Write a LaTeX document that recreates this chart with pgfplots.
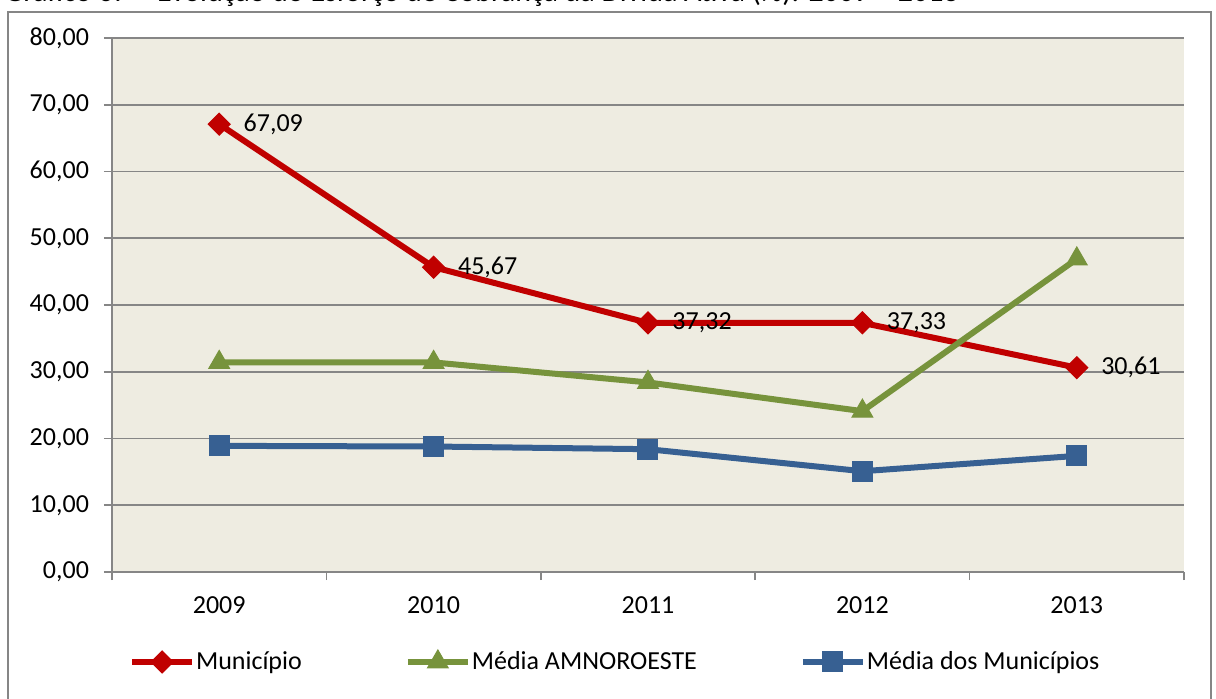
\documentclass[border=0pt]{standalone}
\usepackage{fontspec}
\setmainfont{Carlito}
\usepackage{pgfplots}
\pgfplotsset{compat=1.18}

\definecolor{cRed}{HTML}{C00000}
\definecolor{cGreen}{HTML}{77933C}
\definecolor{cBlue}{HTML}{376092}
\definecolor{cBg}{HTML}{EEECE1}
\definecolor{cGrid}{HTML}{868686}

\begin{document}
\begin{tikzpicture}
% page = 1216x698 px at 0.5pt per px, axis box starts at (112px, 572px)
\useasboundingbox (-56pt,-63pt) rectangle (552pt,286pt);
\node[anchor=base west, inner sep=0pt, font=\fontsize{15}{17}\selectfont]
  at (-54pt,285.5pt) {Gráfico 67 – Evolução do Esforço de Cobrança da Dívida Ativa (\%): 2009 – 2013};
\draw[cGrid, line width=0.8pt] (-52pt,-70pt) -- (-52pt,280pt) -- (549.5pt,280pt) -- (549.5pt,-70pt);

\begin{axis}[
    scale only axis,
    width=536pt, height=267pt,
    xmin=-0.5, xmax=4.5,
    ymin=0, ymax=80,
    axis background/.style={fill=cBg},
    axis x line*=bottom, axis y line*=left,
    axis line style={cGrid, line width=0.8pt, -},
    font=\fontsize{13}{15}\selectfont,
    xtick={0,1,2,3,4},
    xticklabels={2009,2010,2011,2012,2013},
    major x tick style={draw=none},
    minor xtick={-0.5,0.5,1.5,2.5,3.5,4.5},
    minor tick length=4pt,
    minor x tick style={cGrid, line width=0.8pt},
    xticklabel style={yshift=-5pt},
    ytick={0,10,...,80},
    major tick length=4pt,
    tick align=outside,
    y tick style={cGrid, line width=0.8pt},
    ymajorgrids=true,
    grid style={cGrid, line width=0.8pt},
    yticklabel style={xshift=-4pt},
    /pgf/number format/.cd, fixed, fixed zerofill, precision=2, use comma, assume math mode=true,
    /pgfplots/.cd,
    legend columns=3,
    legend style={at={(0.469,-0.168)}, anchor=center, draw=none, fill=none,
        font=\fontsize{13}{15}\selectfont,
        /tikz/every even column/.append style={column sep=51pt},
        nodes={inner sep=0.5pt}},
    legend image code/.code={
        \draw[mark repeat=2, mark phase=2] plot coordinates {(0pt,0pt) (15pt,0pt) (30pt,0pt)};
    },
]
\addplot[cRed, line width=3pt, mark=square*, mark size=3.9pt,
    mark options={solid, fill=cRed, draw=cRed, line width=0.5pt, rotate=45},
    nodes near coords, point meta=y,
    every node near coord/.append style={anchor=west, xshift=12pt, inner sep=0pt, black,
        font=\fontsize{13}{15}\selectfont}]
  coordinates {(0,67.09) (1,45.67) (2,37.32) (3,37.33) (4,30.61)};
\addplot[cGreen, line width=3pt, mark=triangle*, mark size=6pt,
    mark options={solid, fill=cGreen, draw=cGreen, line width=0.5pt}]
  coordinates {(0,31.4) (1,31.4) (2,28.4) (3,24.1) (4,46.9)};
\addplot[cBlue, line width=3pt, mark=square*, mark size=5pt,
    mark options={solid, fill=cBlue, draw=cBlue, line width=0.5pt}]
  coordinates {(0,18.9) (1,18.8) (2,18.4) (3,15.1) (4,17.4)};
\legend{Município, Média AMNOROESTE, Média dos Municípios}
\end{axis}
\end{tikzpicture}
\end{document}
